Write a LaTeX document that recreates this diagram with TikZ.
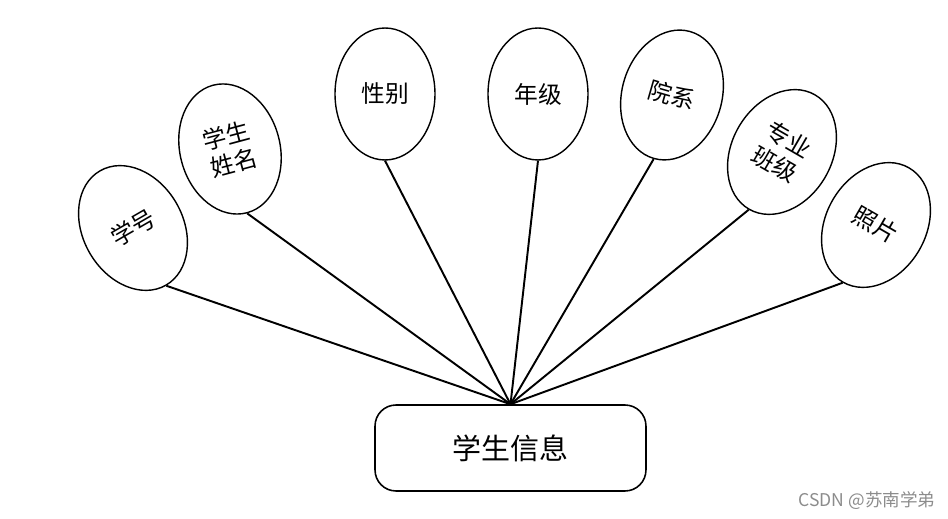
\documentclass[tikz,border=0pt]{standalone}
\usepackage{fontspec}
\newfontfamily\cjk{Noto Sans CJK SC}
\usetikzlibrary{shapes.geometric}
\begin{document}
\begin{tikzpicture}[x=0.02cm,y=-0.02cm,
  attr/.style={ellipse,draw,line width=0.8pt,minimum width=2cm,minimum height=2.64cm,
    inner sep=0pt,align=center,font=\cjk\fontsize{13.5}{16}\selectfont},
  entity/.style={draw,rounded corners=0.42cm,line width=0.9pt,minimum width=5.42cm,
    minimum height=1.72cm,font=\cjk\fontsize{16.5}{20}\selectfont},
  link/.style={line width=1.1pt}]
\useasboundingbox (0,0) rectangle (948,519);
\node[entity] (info) at (510.5,448) {学生信息};
\node[attr,rotate=30]  (a1) at (133,228) {学号};
\node[attr,rotate=15]  (a2) at (230,149) {学生\\姓名};
\node[attr]            (a3) at (385,94)  {性别};
\node[attr]            (a4) at (538,94)  {年级};
\node[attr,rotate=-16] (a5) at (672,95)  {院系};
\node[attr,rotate=-30] (a6) at (782,152) {专业\\班级};
\node[attr,rotate=-30] (a7) at (876,225) {照片};
\foreach \i in {1,...,7} \draw[link] (info.north) -- (a\i.south);
\node[font=\cjk\fontsize{10}{12}\selectfont,text=black!45] (wm) at (867,501) {CSDN @苏南学弟};
\end{tikzpicture}
\end{document}
